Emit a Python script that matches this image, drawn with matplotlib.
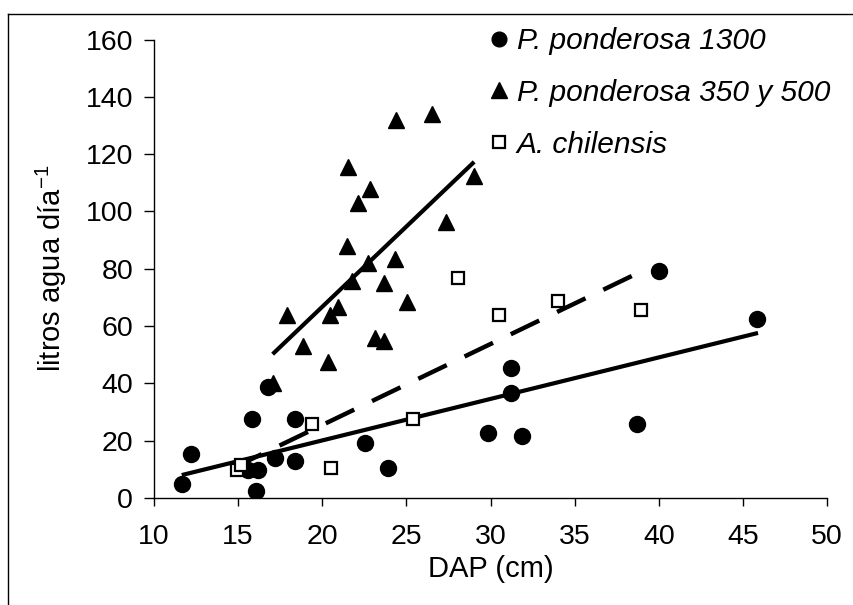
import matplotlib
matplotlib.use("Agg")
import matplotlib.pyplot as plt
from matplotlib.lines import Line2D

plt.rcParams['font.family'] = ['Liberation Sans', 'DejaVu Sans']
plt.rcParams['mathtext.fontset'] = 'custom'
plt.rcParams['mathtext.rm'] = 'Liberation Sans'
plt.rcParams['mathtext.it'] = 'Liberation Sans:italic'

# P. ponderosa 1300 (circles)
pp1300_x = [11.65, 12.2, 15.6, 15.8, 16.06, 16.2, 16.76, 17.19, 18.38, 18.38,
            22.54, 23.92, 29.86, 31.21, 31.21, 31.9, 38.68, 40.02, 45.81]
pp1300_y = [4.9, 15.4, 9.8, 27.5, 2.4, 9.8, 38.6, 13.8, 27.5, 12.9,
            19.3, 10.4, 22.6, 45.2, 36.5, 21.7, 25.8, 79.3, 62.3]
# P. ponderosa 350 y 500 (triangles)
pp350_x = [17.05, 17.88, 18.83, 20.36, 20.46, 20.95, 21.45, 21.55, 21.75, 22.14,
           22.73, 22.83, 23.13, 23.68, 23.65, 24.32, 24.36, 25.01, 26.54, 27.37, 29.03]
pp350_y = [40.0, 63.9, 53.0, 47.6, 63.9, 66.8, 87.9, 115.6, 75.8, 102.8,
           82.1, 108.0, 55.7, 54.9, 74.9, 83.3, 131.9, 68.3, 134.0, 96.4, 112.4]
# A. chilensis (open squares)
ach_x = [14.95, 15.15, 19.37, 20.5, 25.41, 28.06, 30.53, 33.99, 38.94]
ach_y = [9.8, 11.5, 25.8, 10.6, 27.5, 76.9, 64.0, 68.7, 65.6]

# trend lines (endpoints)
fit1300_x = [11.65, 45.9]
fit1300_y = [8.0, 57.6]
fit350_x = [17.05, 29.03]
fit350_y = [50.2, 117.3]
fitach_x = [14.95, 38.94]
fitach_y = [11.2, 79.0]

labels = ['P. ponderosa 1300', 'P. ponderosa 350 y 500', 'A. chilensis']
xticks = [10, 15, 20, 25, 30, 35, 40, 45, 50]
yticks = [0, 20, 40, 60, 80, 100, 120, 140, 160]

W, H = 854, 605
fig = plt.figure(figsize=(W / 100, H / 100), dpi=100)
ax = fig.add_axes([154 / W, 1 - 498 / H, (827 - 154) / W, (498 - 39.5) / H])

ax.plot(fit1300_x, fit1300_y, color='black', lw=3, solid_capstyle='butt', zorder=2)
ax.plot(fit350_x, fit350_y, color='black', lw=3, solid_capstyle='butt', zorder=2)
ax.plot(fitach_x, fitach_y, color='black', lw=3.2, linestyle=(1.0, (7.1, 4.45)),
        dash_capstyle='butt', zorder=2)

h1, = ax.plot(pp1300_x, pp1300_y, linestyle='none', marker='o', ms=11.5,
              color='black', zorder=3)
h2, = ax.plot(pp350_x, pp350_y, linestyle='none', marker='^', ms=12,
              color='black', zorder=3)
h3, = ax.plot(ach_x, ach_y, linestyle='none', marker='s', ms=9.3, mew=1.6,
              markerfacecolor='white', markeredgecolor='black', zorder=3)

ax.set_xlim(10, 50)
ax.set_ylim(0, 160)
ax.set_xticks(xticks)
ax.set_yticks(yticks)
for s in ['top', 'right']:
    ax.spines[s].set_visible(False)
for s in ['left', 'bottom']:
    ax.spines[s].set_linewidth(1.0)
ax.tick_params(axis='y', direction='out', length=7, width=1.0, pad=8, labelsize=20.5)
ax.tick_params(axis='x', direction='out', length=6, width=1.0, pad=13, labelsize=20.5)

ax.set_xlabel('DAP (cm)', fontsize=21, labelpad=3)
ax.set_ylabel('litros agua día$^{-1}$', fontsize=21, labelpad=12)

leg = fig.legend([h1, h2, h3], labels, loc='upper left',
                 bbox_to_anchor=(490 / W, 1 - 27 / H), frameon=False,
                 prop={'style': 'italic', 'size': 21.5}, handlelength=0.6,
                 handletextpad=0.3, labelspacing=0.8, borderaxespad=0,
                 borderpad=0, markerscale=0.92)

# outer frame (right and bottom edges lie outside the image)
fig.add_artist(Line2D([8 / W, 1.01], [1 - 14 / H, 1 - 14 / H], color='black', lw=1.0,
                      transform=fig.transFigure))
fig.add_artist(Line2D([8 / W, 8 / W], [-0.01, 1 - 14 / H], color='black', lw=1.0,
                      transform=fig.transFigure))

fig.savefig('out.png', dpi=100)
